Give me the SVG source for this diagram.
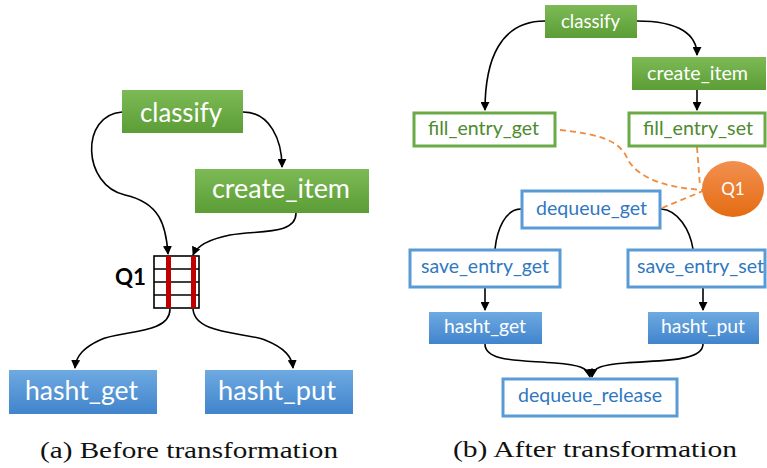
<svg xmlns="http://www.w3.org/2000/svg" width="767" height="468" viewBox="0 0 767 468">
<style>
.t{font-family:Lato,"Open Sans","Liberation Sans",sans-serif;}
.w{fill:#ffffff;}
.tg{fill:#4e8a2e;}
.tb{fill:#2f78c0;}
.gf{fill:url(#gg);stroke:none;}
.bf{fill:url(#bg);stroke:none;}
.go{fill:#ffffff;stroke:#6aab47;stroke-width:3;}
.bo{fill:#ffffff;stroke:#5b9bd5;stroke-width:3;}
.e{fill:none;stroke:#000;stroke-width:1.6;}
.ea{fill:none;stroke:#000;stroke-width:1.6;marker-end:url(#ah);}
.d{fill:none;stroke:#f08a3c;stroke-width:1.8;stroke-dasharray:6 4;}
.cap{font-family:"Liberation Serif","DejaVu Serif",serif;font-size:24px;fill:#111;}
</style>
<defs>
<linearGradient id="gg" x1="0" y1="0" x2="0" y2="1"><stop offset="0" stop-color="#7dba55"/><stop offset="1" stop-color="#5b9d36"/></linearGradient>
<linearGradient id="bg" x1="0" y1="0" x2="0" y2="1"><stop offset="0" stop-color="#6eaae2"/><stop offset="1" stop-color="#4184cc"/></linearGradient>
<linearGradient id="og" x1="0" y1="0" x2="0" y2="1"><stop offset="0" stop-color="#f29050"/><stop offset="1" stop-color="#e46c12"/></linearGradient>
<marker id="ah" viewBox="0 0 10 10" refX="9" refY="5" markerWidth="9" markerHeight="9" markerUnits="userSpaceOnUse" orient="auto"><path d="M0,0 L10,5 L0,10 Z" fill="#000"/></marker>
</defs>

<g id="edges">
<path class="ea" d="M122,112 C80,115 82,185 125,195 C160,203 166,225 168,254"/>
<path class="ea" d="M243,112 C270,112 282,140 282,167"/>
<path class="ea" d="M296,213 C296,235 260,230 230,235 C205,240 196,248 193,255"/>
<path class="ea" d="M170,309 C170,335 120,330 100,340 C85,347 76,355 75,368"/>
<path class="ea" d="M193,309 C195,335 245,332 265,340 C285,348 292,357 293,368"/>

<path class="ea" d="M545,21 C500,21 485,60 485,110"/>
<path class="ea" d="M637,21 C680,21 697,35 697,55"/>
<path class="ea" d="M697,90 L697,110"/>
<path class="e" d="M521,209 C505,209 497,230 495,249"/>
<path class="e" d="M661,209 C678,210 690,230 693,249"/>
<path class="ea" d="M485,287 L485,310"/>
<path class="ea" d="M703,287 L703,310"/>
<path class="ea" d="M485,344 C485,362 520,360 555,363 C578,365 588,367 590,377"/>
<path class="ea" d="M703,344 C703,362 660,360 625,363 C602,365 593,367 592,377"/>

<path class="d" d="M560,130 C610,135 622,145 628,160 C640,180 670,188 703,190"/>
<path class="d" d="M697,147 L700,186"/>
<path class="d" d="M662,208 L703,191"/>
</g>

<g id="a_classify"><rect class="gf" x="122" y="90" width="121" height="43"/><text class="t w" x="140" y="122" font-size="26" textLength="82" lengthAdjust="spacingAndGlyphs">classify</text></g>
<g id="a_create_item"><rect class="gf" x="195" y="169" width="174" height="44"/><text class="t w" x="212" y="198" font-size="26" textLength="138" lengthAdjust="spacingAndGlyphs">create_item</text></g>
<g id="a_Q1">
<rect x="154" y="256" width="45" height="52" fill="#fff" stroke="#000" stroke-width="1.6"/>
<path d="M154,269 H199 M154,282 H199 M154,295 H199" stroke="#000" stroke-width="1.4"/>
<rect x="166" y="256" width="5" height="52" fill="#c00000"/>
<rect x="191" y="256" width="5" height="52" fill="#c00000"/>
<text class="t" x="115" y="285" font-size="23" font-weight="bold" fill="#000" textLength="31" lengthAdjust="spacingAndGlyphs">Q1</text>
</g>
<g id="a_hasht_get"><rect class="bf" x="9" y="370" width="148" height="44"/><text class="t w" x="25" y="400" font-size="26" textLength="113" lengthAdjust="spacingAndGlyphs">hasht_get</text></g>
<g id="a_hasht_put"><rect class="bf" x="205" y="370" width="148" height="44"/><text class="t w" x="218" y="400" font-size="26" textLength="118" lengthAdjust="spacingAndGlyphs">hasht_put</text></g>
<text class="cap" x="40" y="458" textLength="298" lengthAdjust="spacingAndGlyphs">(a) Before transformation</text>

<g id="b_classify"><rect class="gf" x="545" y="5" width="92" height="33"/><text class="t w" x="561" y="28" font-size="19" textLength="59" lengthAdjust="spacingAndGlyphs">classify</text></g>
<g id="b_create_item"><rect class="gf" x="632" y="57" width="134" height="33"/><text class="t w" x="647" y="80" font-size="19" textLength="101" lengthAdjust="spacingAndGlyphs">create_item</text></g>
<g id="b_fill_entry_get"><rect class="go" x="414" y="113" width="141" height="33"/><text class="t tg" x="428" y="135" font-size="19" textLength="111" lengthAdjust="spacingAndGlyphs">fill_entry_get</text></g>
<g id="b_fill_entry_set"><rect class="go" x="629" y="113" width="136" height="33"/><text class="t tg" x="643" y="135" font-size="19" textLength="110" lengthAdjust="spacingAndGlyphs">fill_entry_set</text></g>
<g id="b_Q1"><ellipse cx="733" cy="189" rx="31" ry="28" fill="url(#og)"/><text class="t w" x="733" y="195" font-size="17" text-anchor="middle">Q1</text></g>
<g id="b_dequeue_get"><rect class="bo" x="522" y="191" width="138" height="37"/><text class="t tb" x="536" y="215" font-size="19" textLength="111" lengthAdjust="spacingAndGlyphs">dequeue_get</text></g>
<g id="b_save_entry_get"><rect class="bo" x="410" y="250" width="150" height="37"/><text class="t tb" x="421" y="273" font-size="19" textLength="128" lengthAdjust="spacingAndGlyphs">save_entry_get</text></g>
<g id="b_save_entry_set"><rect class="bo" x="628" y="250" width="137" height="37"/><text class="t tb" x="637" y="273" font-size="19" textLength="127" lengthAdjust="spacingAndGlyphs">save_entry_set</text></g>
<g id="b_hasht_get"><rect class="bf" x="429" y="312" width="113" height="32"/><text class="t w" x="444" y="333" font-size="19" textLength="82" lengthAdjust="spacingAndGlyphs">hasht_get</text></g>
<g id="b_hasht_put"><rect class="bf" x="648" y="312" width="111" height="32"/><text class="t w" x="661" y="333" font-size="19" textLength="84" lengthAdjust="spacingAndGlyphs">hasht_put</text></g>
<g id="b_dequeue_release"><rect class="bo" x="503" y="379" width="174" height="37"/><text class="t tb" x="518" y="402" font-size="19" textLength="144" lengthAdjust="spacingAndGlyphs">dequeue_release</text></g>
<text class="cap" x="453" y="457" textLength="284" lengthAdjust="spacingAndGlyphs">(b) After transformation</text>
</svg>
